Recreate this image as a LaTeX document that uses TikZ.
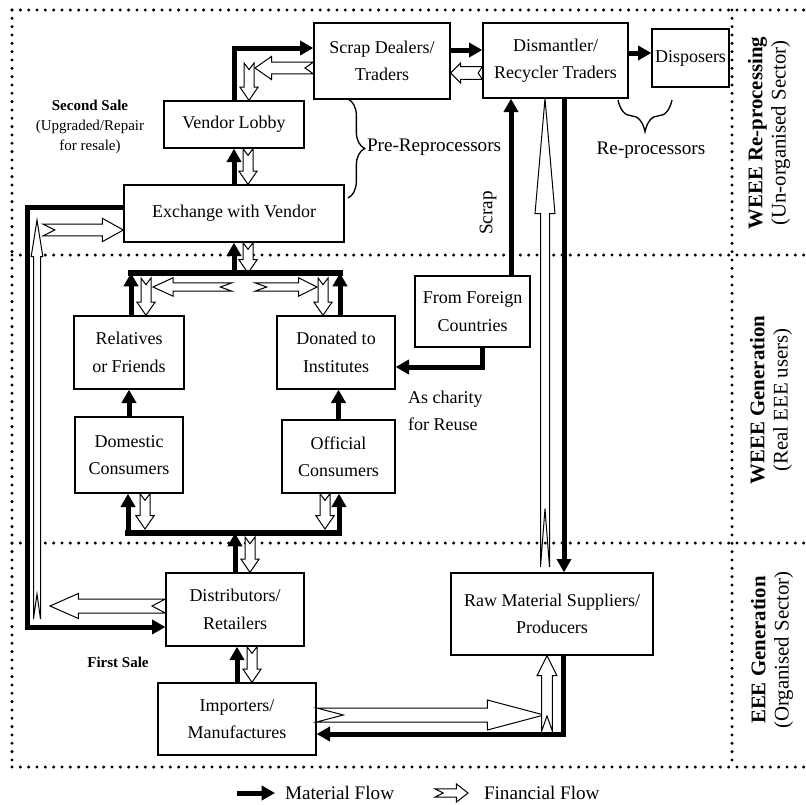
\documentclass[tikz,border=0pt]{standalone}
\usepackage{fontspec}
\setmainfont{Liberation Serif}
\usetikzlibrary{calc,arrows.meta,decorations.pathreplacing}

\tikzset{fin head/.store in=\finhead, fin wing/.store in=\finwing,
         fin shaft/.store in=\finshaft, fin notch/.store in=\finnotch,
         fin head=8pt, fin wing=5.5pt, fin shaft=3pt, fin notch=4pt}
% hollow money arrow with notched tail, from #2 to #3
\newcommand{\finflow}[3][]{%
  \draw[fin,#1] let \p1=#2, \p2=#3, \n1={atan2(\y2-\y1,\x2-\x1)} in
    ($(\p1)+(\n1+90:\finshaft)$) -- ($(\p1)+(\n1:\finnotch)$) -- ($(\p1)+(\n1-90:\finshaft)$)
    -- ($(\p2)+(\n1+180:\finhead)+(\n1-90:\finshaft)$) -- ($(\p2)+(\n1+180:\finhead)+(\n1-90:\finwing)$)
    -- (\p2) -- ($(\p2)+(\n1+180:\finhead)+(\n1+90:\finwing)$)
    -- ($(\p2)+(\n1+180:\finhead)+(\n1+90:\finshaft)$) -- cycle;}

\begin{document}
\begin{tikzpicture}[x=0.6pt,y=-0.6pt,
  box/.style={draw,line width=0.8pt,align=center,inner sep=1.5pt,font=\fontsize{10.8}{16.5}\selectfont},
  mat/.style={line width=3pt,line join=miter,-{Triangle[length=8pt,width=8.5pt]}},
  bar/.style={line width=3.3pt,line cap=rect},
  fin/.style={draw,fill=white,line width=0.6pt,line join=miter},
  zone/.style={line width=2pt,dash pattern=on 0pt off 5pt,line cap=round},
  brc/.style={decorate,decoration={brace,amplitude=#1},line width=0.8pt},
  lbl/.style={inner sep=1pt,font=\fontsize{11.5}{14}\selectfont},
  note/.style={inner sep=1pt,align=center,font=\fontsize{9}{12}\selectfont},
  side/.style={inner sep=1pt,align=center,font=\fontsize{12.5}{14}\selectfont}]
\useasboundingbox (0,0) rectangle (806,805);

% sector frame
\foreach \yy in {10,255,543,767} \draw[zone] (12,\yy) -- (806,\yy);
\draw[zone] (12,10) -- (12,767);
\draw[zone] (732,10) -- (732,767);

% boxes
\node[box,minimum width=81.6pt,minimum height=45.6pt](sd)at(382,61){Scrap Dealers/\\Traders};
\node[box,minimum width=87pt,minimum height=45pt](dr)at(555.5,60.5){Dismantler/\\Recycler Traders};
\node[box,minimum width=46.2pt,minimum height=34.8pt](dp)at(690.5,58){Disposers};
\node[box,minimum width=84pt,minimum height=28.2pt](vl)at(234,124.5){Vendor Lobby};
\node[box,minimum width=132pt,minimum height=34.2pt](ex)at(234,213.5){Exchange with Vendor};
\node[box,minimum width=66pt,minimum height=43.8pt](rf)at(129,352.5){Relatives\\or Friends};
\node[box,minimum width=70.8pt,minimum height=43.8pt](di)at(336,352.5){Donated to\\Institutes};
\node[box,minimum width=64.8pt,minimum height=45.6pt](dc)at(129,455){Domestic\\Consumers};
\node[box,minimum width=67.8pt,minimum height=43.8pt](oc)at(338.5,456.5){Official\\Consumers};
\node[box,minimum width=69pt,minimum height=42.6pt](ff)at(472.5,311.5){From Foreign\\Countries};
\node[box,minimum width=82.8pt,minimum height=43.8pt](ds)at(235,609.5){Distributors/\\Retailers};
\node[box,minimum width=94.8pt,minimum height=43.2pt](im)at(237,719){Importers/\\Manufactures};
\node[box,minimum width=121.2pt,minimum height=49.2pt](rm)at(552,614){Raw Material Suppliers/\\Producers};

% labels
\node[note](secsale)at(90,127){\textbf{Second Sale}\\(Upgraded/Repair\\for resale)};
\node[note](firstsale)at(118,662){\textbf{First Sale}};
\node[lbl,anchor=west](prerep)at(365,147){Pre-Reprocessors};
\node[lbl](reproc)at(651,150){Re-processors};
\node[box,draw=none,anchor=west,align=left](charity)at(405,411){As charity\\for Reuse};
\node[lbl,rotate=90](scrap)at(488,213){Scrap};
\node[side,rotate=90](zone1)at(769,133){\textbf{WEEE Re-processing}\\(Un-organised Sector)};
\node[side,rotate=90](zone2)at(771,400){\textbf{WEEE Generation}\\(Real EEE users)};
\node[side,rotate=90](zone3)at(772,650){\textbf{EEE Generation}\\(Organised Sector)};
\draw[brc=10pt] (348,99) -- (348,198);
\draw[brc=19pt] (672,100) -- (618,100);

% free ends
\coordinate(sdfin)at(249,68);
\coordinate(tbl)at(131,273); \coordinate(tbr)at(340,273);
\coordinate(bbl)at(128,533); \coordinate(bbr)at(339,533);
\coordinate(rffin)at(146,278); \coordinate(difin)at(323,278);
\coordinate(hl1)at(232,287); \coordinate(hl1e)at(153,287);
\coordinate(hr1)at(255,287); \coordinate(hr1e)at(317,287);
\coordinate(dcfin)at(145,529); \coordinate(ocfin)at(325,529);
\coordinate(dsfin)at(250,537);
\coordinate(lfb)at(37,619); \coordinate(lft)at(37,220);
\coordinate(lfh)at(43,230); \coordinate(lfd)at(50,606);
\coordinate(lefttrack)at(27,400);
\coordinate(rmfoot)at(545,567);
\coordinate(finmeet)at(544,715); \coordinate(finfoot)at(547,731);
\coordinate(exfin)at([xshift=8.4pt]ex.south);
\coordinate(imfin)at([xshift=10.2pt]ds.south);
\coordinate(rmup)at([xshift=-6.3pt]dr.south);

% financial flow
\finflow{([xshift=8.4pt]vl.south)}{([xshift=8.4pt]ex.north)}
\finflow[fin head=10pt,fin wing=7pt,fin shaft=3.5pt,fin notch=5pt]{([yshift=-4.2pt]sd.west)}{([xshift=3.6pt]sdfin)}
\finflow{([yshift=3pt]sdfin)}{(sdfin |- vl.north)}
\finflow[fin head=6pt,fin wing=6pt,fin shaft=3.8pt,fin notch=2.5pt]{([yshift=-7.5pt]dr.west)}{([yshift=-7.2pt]sd.east)}
\finflow{(exfin)}{(exfin |- tbl)}
\finflow{(rffin)}{(rffin |- rf.north)}
\finflow{(difin)}{(difin |- di.north)}
\finflow[fin head=12pt,fin wing=5.5pt,fin shaft=2.5pt,fin notch=7pt]{(hl1)}{(hl1e)}
\finflow[fin head=11pt,fin wing=5.5pt,fin shaft=2.5pt,fin notch=7pt]{(hr1)}{(hr1e)}
\finflow{(dcfin |- dc.south)}{(dcfin)}
\finflow{(ocfin |- oc.south)}{(ocfin)}
\finflow{(dsfin)}{(dsfin |- ds.north)}
\finflow{(imfin)}{(imfin |- im.north)}
\finflow[fin head=22pt,fin wing=3.5pt,fin shaft=2.1pt,fin notch=15pt]{(lfb)}{(lft)}
\finflow[fin head=12.6pt,fin wing=7pt,fin shaft=3.5pt,fin notch=7pt]{(lfh)}{([yshift=-9.9pt]ex.west)}
\finflow[fin head=17pt,fin wing=7.5pt,fin shaft=4.2pt,fin notch=8pt]{([yshift=2.1pt]ds.west)}{(lfd)}
\finflow[fin head=69pt,fin wing=6pt,fin shaft=2.7pt,fin notch=35pt]{(rmfoot)}{(rmup)}
\finflow[fin head=34pt,fin wing=9pt,fin shaft=4.2pt,fin notch=16pt]{([yshift=2.4pt]im.east)}{(finmeet)}
\finflow[fin head=12pt,fin wing=6pt,fin shaft=3.2pt,fin notch=9pt]{(finfoot)}{(finfoot |- rm.south)}

% material flow
\coordinate(sdout)at([yshift=6.6pt]sd.east);
\coordinate(drout)at([yshift=4.5pt]dr.east);
\coordinate(scrapin)at([xshift=23.1pt]ff.north);
\coordinate(drdown)at([xshift=5.1pt]dr.south);
\draw[mat] (ex.north) -- (vl.south);
\draw[mat] (vl.north) |- ([yshift=7.8pt]sd.west);
\draw[mat] (sdout) -- (sdout -| dr.west);
\draw[mat] (drout) -- (drout -| dp.west);
\draw[mat] (scrapin) -- (scrapin |- dr.south);
\draw[mat] ([xshift=5.7pt]ff.south) |- ([yshift=-8.7pt]di.east);
\draw[mat] (drdown) -- (drdown |- rm.north);
\draw[mat] ([xshift=6.6pt]rm.south) |- ([yshift=-9pt]im.east);
\draw[mat] ([yshift=3.9pt]ex.west) -| (lefttrack) |- ([yshift=-10.5pt]ds.west);
\draw[bar] (tbl) -- (tbr);
\draw[mat] (tbl |- rf.north) -- (tbl);
\draw[mat] (tbr |- di.north) -- (tbr);
\draw[mat] (ex.south |- tbl) -- (ex.south);
\draw[bar] (bbl) -- (bbr);
\draw[mat] (bbl) -- (bbl |- dc.south);
\draw[mat] (bbr) -- (bbr |- oc.south);
\draw[mat] (ds.north) -- (ds.north |- bbl);
\draw[mat] (dc.north) -- (rf.south);
\draw[mat] (oc.north) -- (oc.north |- di.south);
\draw[mat] (im.north) -- (im.north |- ds.south);

% legend
\node[lbl,anchor=west](matleg)at(283,793){Material Flow};
\node[lbl,anchor=west](finleg)at(482,793){Financial Flow};
\draw[mat] ([xshift=-27.6pt]matleg.west) -- ([xshift=-4.8pt]matleg.west);
\finflow[fin head=7pt,fin wing=5.5pt,fin shaft=2.5pt,fin notch=5pt]{([xshift=-28.2pt]finleg.west)}{([xshift=-8.4pt]finleg.west)}
\end{tikzpicture}
\end{document}
